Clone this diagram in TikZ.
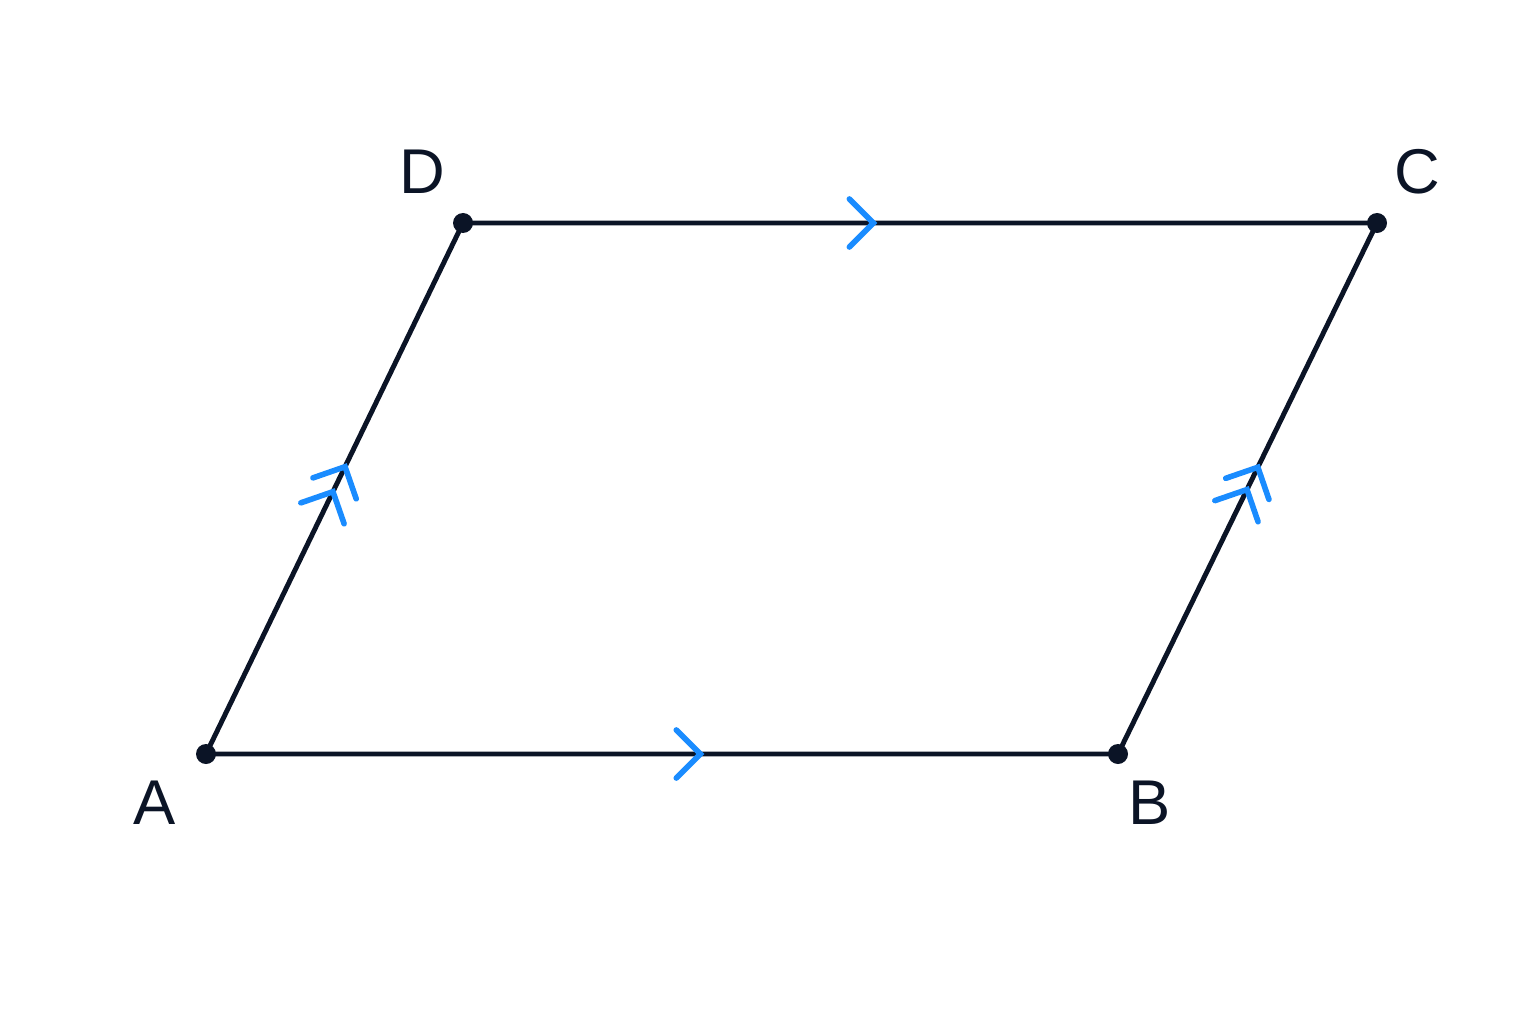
\documentclass[tikz,border=0pt]{standalone}
\usepackage{fontspec}
\setmainfont{Liberation Sans}
\usetikzlibrary{calc}

\definecolor{edgecol}{HTML}{0B1426}
\definecolor{markcol}{HTML}{1A8CFF}

\begin{document}
\begin{tikzpicture}[
		edge/.style={edgecol,line width=1.4pt,line join=round},
		parmark/.style={markcol,line width=1.6pt,line cap=round,line join=miter},
		vlabel/.style={text=edgecol,font=\fontsize{18}{20}\selectfont,inner sep=0pt}
	]
			\useasboundingbox (0,0) rectangle (15.36,10.24);
			% vertices
			\coordinate (A) at (2.06,2.70);
			\coordinate (B) at (11.18,2.70);
			\coordinate (C) at (13.77,8.01);
			\coordinate (D) at (4.63,8.01);
			\draw[edge] (A)--(B)--(C)--(D)--cycle;
			% parallel marks
			\foreach \s/\e/\t in {A/B/0.542, D/C/0.449, A/D/0.541, A/D/0.494, B/C/0.540, B/C/0.498}{
				\coordinate (tip) at ($(\s)!\t!(\e)$);
				\draw[parmark] ($(tip)!0.34cm!45:(\s)$) -- (tip) -- ($(tip)!0.34cm!-45:(\s)$);
			}
			\foreach \v in {A,B,C,D}{
				\fill[edgecol] (\v) circle (0.1);
			}
			\node[vlabel] (labA) at ($(A)+(-0.51,-0.49)$) {A};
			\node[vlabel] (labB) at ($(B)+(0.32,-0.49)$) {B};
			\node[vlabel] (labC) at ($(C)+(0.40,0.51)$) {C};
			\node[vlabel] (labD) at ($(D)+(-0.41,0.51)$) {D};
		\end{tikzpicture}
\end{document}
